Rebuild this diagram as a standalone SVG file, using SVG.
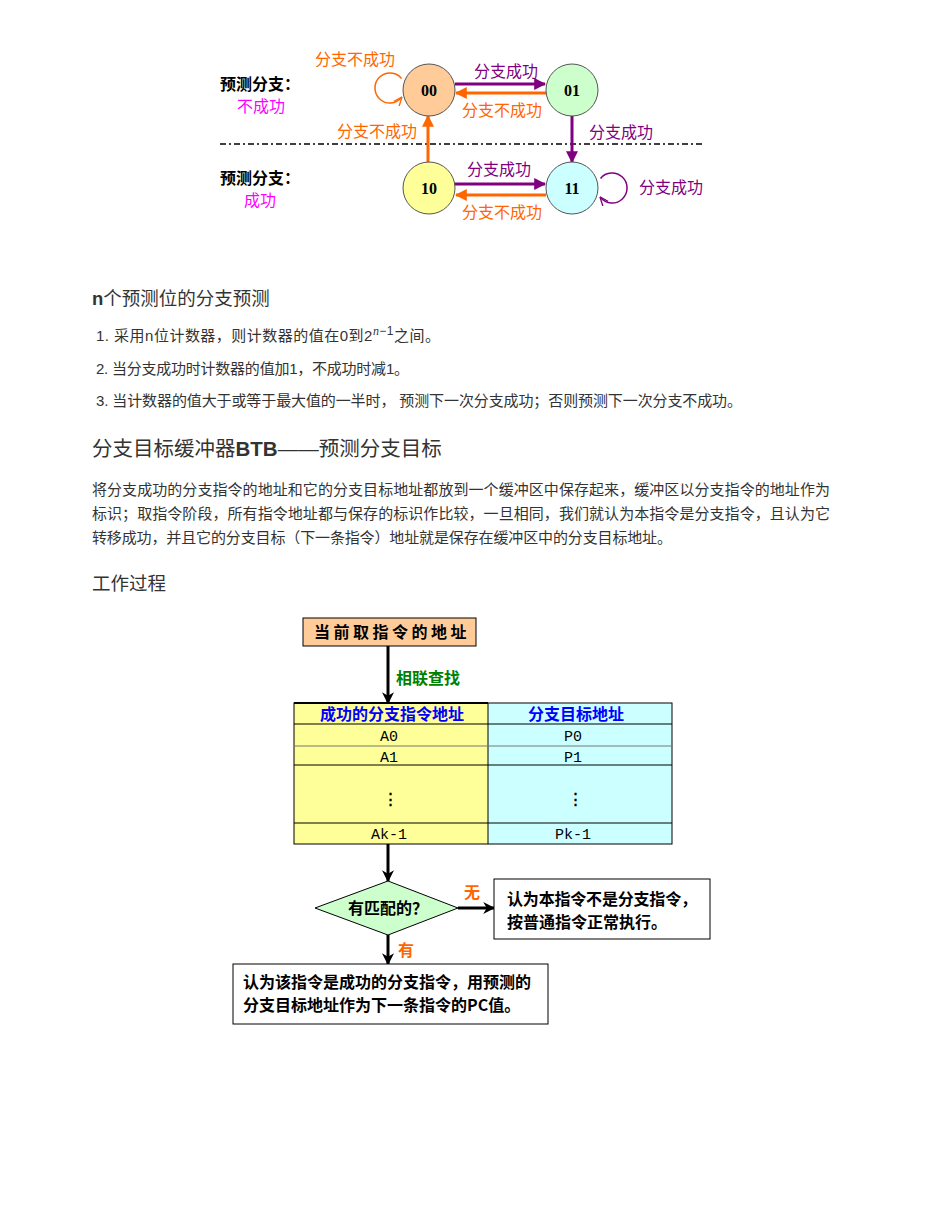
<svg xmlns="http://www.w3.org/2000/svg" width="935" height="1210" viewBox="0 0 935 1210">
<defs>
<style>
.st{stroke:#555;stroke-width:1}
.sl{font-family:"Liberation Serif","Noto Sans CJK SC",serif;font-weight:bold;font-size:16px;fill:#000;text-anchor:middle}
.lbl{font-family:"Noto Sans CJK SC",sans-serif;font-size:16px;text-anchor:middle}
.pu{fill:#800080}
.or{fill:#FF6600}
.mg{fill:#FF00FF}
.bk{fill:#000;font-weight:bold}
.body{font-family:"Liberation Sans","Noto Sans CJK SC",sans-serif;fill:#333}
.fc{font-family:"Noto Sans CJK SC",serif;font-weight:bold;font-size:16px;fill:#000}
.cell{font-family:"Liberation Mono","Noto Sans CJK SC",monospace;font-size:15px;fill:#000;text-anchor:middle}
</style>
<marker id="ap" viewBox="0 0 10 10" refX="9" refY="5" markerWidth="4" markerHeight="4" orient="auto"><path d="M0,0L10,5L0,10z" fill="#800080"/></marker>
<marker id="ao" viewBox="0 0 10 10" refX="9" refY="5" markerWidth="4" markerHeight="4" orient="auto"><path d="M0,0L10,5L0,10z" fill="#FF6600"/></marker>
<marker id="ab" viewBox="0 0 10 10" refX="9" refY="5" markerWidth="4" markerHeight="4" orient="auto"><path d="M0,0L10,5L0,10L3,5z" fill="#000"/></marker>
<marker id="al" viewBox="0 0 10 10" refX="9" refY="5" markerWidth="6" markerHeight="6" orient="auto"><path d="M0,1L10,5L0,9" fill="none" stroke="#800080" stroke-width="1.5"/></marker>
<marker id="alo" viewBox="0 0 10 10" refX="9" refY="5" markerWidth="6" markerHeight="6" orient="auto"><path d="M0,1L10,5L0,9" fill="none" stroke="#FF6600" stroke-width="1.5"/></marker>
</defs>
<rect width="935" height="1210" fill="#fff"/>

<!-- State diagram -->
<g id="divider"><line x1="220" y1="144" x2="705" y2="144" stroke="#000" stroke-width="1.6" stroke-dasharray="6,3,2,3"/></g>
<g id="side-labels">
<text x="260" y="90" class="lbl bk" font-size="15">预测分支：</text>
<text x="261" y="112" class="lbl mg" font-size="15">不成功</text>
<text x="260" y="184" class="lbl bk" font-size="15">预测分支：</text>
<text x="260" y="206" class="lbl mg" font-size="15">成功</text>
</g>
<g id="state-connectors">
<line x1="455" y1="84" x2="545" y2="84" stroke="#800080" stroke-width="3" marker-end="url(#ap)"/>
<line x1="546" y1="93" x2="456" y2="93" stroke="#FF6600" stroke-width="3" marker-end="url(#ao)"/>
<line x1="428" y1="162" x2="428" y2="116" stroke="#FF6600" stroke-width="3" marker-end="url(#ao)"/>
<line x1="572" y1="116" x2="572" y2="162" stroke="#800080" stroke-width="3" marker-end="url(#ap)"/>
<line x1="454" y1="184" x2="545" y2="184" stroke="#800080" stroke-width="3" marker-end="url(#ap)"/>
<line x1="546" y1="195" x2="456" y2="195" stroke="#FF6600" stroke-width="3" marker-end="url(#ao)"/>
<path d="M401.5,78.4 A15,15 0 1 0 401.5,97.6" fill="none" stroke="#FF6600" stroke-width="1.5" marker-end="url(#alo)"/>
<path d="M600.5,178.4 A15,15 0 1 1 600.5,197.6" fill="none" stroke="#800080" stroke-width="1.5" marker-end="url(#al)"/>
<text x="355" y="65" class="lbl or">分支不成功</text>
<text x="506" y="77" class="lbl pu">分支成功</text>
<text x="502" y="116" class="lbl or">分支不成功</text>
<text x="377" y="137" class="lbl or">分支不成功</text>
<text x="621" y="138" class="lbl pu">分支成功</text>
<text x="499" y="175" class="lbl pu">分支成功</text>
<text x="502" y="218" class="lbl or">分支不成功</text>
<text x="671" y="193" class="lbl pu">分支成功</text>
</g>
<g id="s00"><circle cx="429" cy="90" r="26" fill="#FFCC99" class="st"/><text x="429" y="96" class="sl">00</text></g>
<g id="s01"><circle cx="572" cy="90" r="26" fill="#CCFFCC" class="st"/><text x="572" y="96" class="sl">01</text></g>
<g id="s10"><circle cx="429" cy="188" r="26" fill="#FFFF99" class="st"/><text x="429" y="194" class="sl">10</text></g>
<g id="s11"><circle cx="572" cy="188" r="26" fill="#CCFFFF" class="st"/><text x="572" y="194" class="sl">11</text></g>

<!-- Text section -->
<g id="text-section" class="body">
<text x="92" y="305" font-size="18.5"><tspan font-weight="bold">n</tspan>个预测位的分支预测</text>
<text x="96" y="341" font-size="15" textLength="344" lengthAdjust="spacing">1. 采用n位计数器，则计数器的值在0到2<tspan font-family="Liberation Serif,serif" font-style="italic" font-size="12" dy="-6">n</tspan><tspan font-size="12">−1</tspan><tspan dy="6">之间。</tspan></text>
<text x="96" y="374" font-size="15" textLength="313" lengthAdjust="spacing">2. 当分支成功时计数器的值加1，不成功时减1。</text>
<text x="96" y="406" font-size="15" textLength="646" lengthAdjust="spacing">3. 当计数器的值大于或等于最大值的一半时， 预测下一次分支成功；否则预测下一次分支不成功。</text>
<text x="92" y="456" font-size="20.5">分支目标缓冲器<tspan font-weight="bold">BTB</tspan>——预测分支目标</text>
<text x="92" y="495" font-size="15" textLength="738" lengthAdjust="spacing">将分支成功的分支指令的地址和它的分支目标地址都放到一个缓冲区中保存起来，缓冲区以分支指令的地址作为</text>
<text x="92" y="519" font-size="15" textLength="738" lengthAdjust="spacing">标识；取指令阶段，所有指令地址都与保存的标识作比较，一旦相同，我们就认为本指令是分支指令，且认为它</text>
<text x="92" y="543" font-size="15" textLength="580" lengthAdjust="spacing">转移成功，并且它的分支目标（下一条指令）地址就是保存在缓冲区中的分支目标地址。</text>
<text x="92" y="590" font-size="18.5">工作过程</text>
</g>

<!-- Flowchart -->
<g id="flow-connectors">
<line x1="388" y1="646" x2="388" y2="703" stroke="#000" stroke-width="3" marker-end="url(#ab)"/>
<line x1="388" y1="844" x2="388" y2="881" stroke="#000" stroke-width="3" marker-end="url(#ab)"/>
<line x1="458" y1="908" x2="494" y2="908" stroke="#000" stroke-width="3" marker-end="url(#ab)"/>
<line x1="388" y1="935" x2="388" y2="964" stroke="#000" stroke-width="3" marker-end="url(#ab)"/>
<text x="428" y="684" font-family="Noto Sans CJK SC,serif" font-weight="bold" font-size="16" fill="#008000" text-anchor="middle">相联查找</text>
<text x="472" y="898" font-family="Noto Sans CJK SC,serif" font-weight="bold" font-size="16" fill="#FF6600" text-anchor="middle">无</text>
<text x="406" y="956" font-family="Noto Sans CJK SC,serif" font-weight="bold" font-size="16" fill="#FF6600" text-anchor="middle">有</text>
</g>
<g id="current-addr">
<rect x="303" y="618" width="173" height="28" fill="#FFCC99" stroke="#000" stroke-width="1"/>
<text x="392" y="638" class="fc" text-anchor="middle" letter-spacing="3.5">当前取指令的地址</text>
</g>
<g id="btb-table">
<rect x="294" y="703" width="194" height="141" fill="#FFFF99"/>
<rect x="488" y="703" width="184" height="141" fill="#CCFFFF"/>
<g stroke="#000" stroke-width="1" fill="none">
<rect x="294" y="703" width="378" height="141"/>
<line x1="488" y1="703" x2="488" y2="844"/>
<line x1="294" y1="724" x2="672" y2="724"/>
<line x1="294" y1="746" x2="672" y2="746" stroke="#777"/>
<line x1="294" y1="765" x2="672" y2="765"/>
<line x1="294" y1="823" x2="672" y2="823"/>
<line x1="294" y1="703" x2="488" y2="703" stroke-width="2"/>
</g>
<text x="392" y="720" class="fc" text-anchor="middle" style="fill:#0000FF" font-size="16.5">成功的分支指令地址</text>
<text x="576" y="720" class="fc" text-anchor="middle" style="fill:#0000FF" font-size="16.5">分支目标地址</text>
<text x="389" y="741" class="cell">A0</text>
<text x="573" y="741" class="cell">P0</text>
<text x="389" y="762" class="cell">A1</text>
<text x="573" y="762" class="cell">P1</text>
<text x="390" y="804" class="cell" font-weight="bold">⋮</text>
<text x="575" y="804" class="cell" font-weight="bold">⋮</text>
<text x="389" y="839" class="cell">Ak-1</text>
<text x="573" y="839" class="cell">Pk-1</text>
</g>
<g id="decision">
<polygon points="315,908 388,881 458,908 388,935" fill="#CCFFCC" stroke="#000" stroke-width="1"/>
<text x="388" y="914" class="fc" text-anchor="middle">有匹配的？</text>
</g>
<g id="no-match">
<rect x="494" y="879" width="216" height="60" fill="#fff" stroke="#000" stroke-width="1"/>
<text x="507" y="905" class="fc" textLength="190" lengthAdjust="spacing">认为本指令不是分支指令，</text>
<text x="507" y="928" class="fc">按普通指令正常执行。</text>
</g>
<g id="match">
<rect x="233" y="964" width="315" height="60" fill="#fff" stroke="#000" stroke-width="1"/>
<text x="243" y="988" class="fc" font-size="16.5">认为该指令是成功的分支指令，用预测的</text>
<text x="243" y="1011" class="fc" font-size="16.5">分支目标地址作为下一条指令的PC值。</text>
</g>
</svg>
